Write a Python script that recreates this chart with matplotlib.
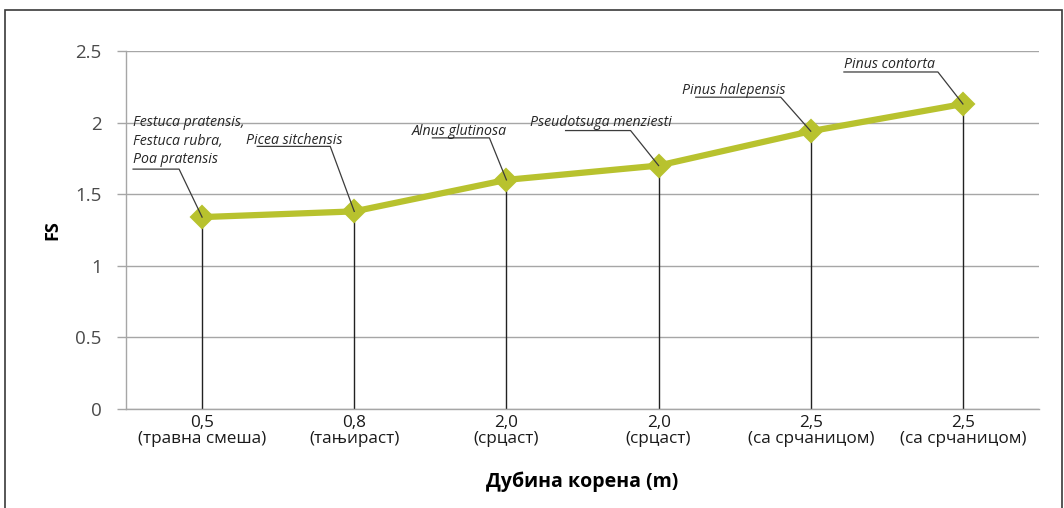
import matplotlib
matplotlib.use("Agg")
import matplotlib.pyplot as plt
from matplotlib.patches import Rectangle
from matplotlib.lines import Line2D

# ---- data ----
depths = ["0,5", "0,8", "2,0", "2,0", "2,5", "2,5"]
root_types = ["(травна смеша)", "(тањираст)", "(срцаст)", "(срцаст)",
              "(са срчаницом)", "(са срчаницом)"]
fs_values = [1.34, 1.38, 1.60, 1.70, 1.94, 2.13]
species = ["Festuca pratensis,\nFestuca rubra,\nPoa pratensis",
           "Picea sitchensis",
           "Alnus glutinosa",
           "Pseudotsuga menziesti",
           "Pinus halepensis",
           "Pinus contorta"]
y_ticks = [0, 0.5, 1, 1.5, 2, 2.5]
y_tick_labels = ["0", "0.5", "1", "1.5", "2", "2.5"]

# label placement (pixel offsets from the point, image y-down)
text_off = [(-69, -76), (-108, -71), (-95, -48), (-129, -43), (-129, -41), (-119, -39)]
uline = [(-69, -23, -48), (-97, -24, -65), (-74, -17, -42), (-93, -28, -35),
         (-115, -30, -34), (-119, -25, -32)]

W, H = 1064, 508
fig = plt.figure(figsize=(W / 100, H / 100), dpi=100)
fig.patch.set_facecolor("white")
FONT = "Open Sans"

# outer frame
fig.add_artist(Rectangle((5 / W, -0.01), (1062 - 5) / W, 1 - 10 / H + 0.01,
                         transform=fig.transFigure, fill=False,
                         edgecolor="#3a3a3a", linewidth=1.2))

ax = fig.add_axes([126 / W, 1 - 409 / H, (1039 - 126) / W, (409 - 51) / H])
n = len(fs_values)
x = list(range(n))
ax.set_xlim(-0.5, n - 0.5)
ax.set_ylim(0, 2.5)

for s in ["top", "right"]:
    ax.spines[s].set_visible(False)
ax.spines["left"].set_color("#a6a6a6")
ax.spines["bottom"].set_color("#a6a6a6")
ax.spines["left"].set_linewidth(1.0)
ax.spines["bottom"].set_linewidth(1.0)

ax.set_yticks(y_ticks)
ax.set_yticklabels(y_tick_labels, fontsize=13.5, color="#4a4a4a", fontname=FONT)
ax.tick_params(axis="y", length=6.5, width=1.0, color="#a6a6a6", pad=11)
ax.set_xticks(x)
ax.set_xticklabels([f"{d}\n{r}" for d, r in zip(depths, root_types)],
                   fontsize=12.3, color="#1a1a1a", fontname=FONT, linespacing=0.95)
ax.tick_params(axis="x", length=0, pad=4.5)
ax.yaxis.grid(True, color="#a6a6a6", linewidth=1.0)
ax.set_axisbelow(True)

# drop lines
ax.vlines(x, 0, fs_values, color="#222222", linewidth=1.0, zorder=2)
# series
ax.plot(x, fs_values, color="#b8c22e", linewidth=4.5, zorder=4,
        solid_capstyle="round")

ax.set_ylabel("FS", fontsize=13, fontweight="bold", fontname=FONT, labelpad=10)
ax.set_xlabel("Дубина корена (m)", fontsize=14, fontweight="bold",
              fontname=FONT, labelpad=18)

fig.canvas.draw()
to_disp = ax.transData
for i, v in enumerate(fs_values):
    px, py = to_disp.transform((i, v))
    tx, ty = text_off[i]
    fig.text((px + tx) / W, (py - ty) / H, species[i], ha="left", va="center",
             fontsize=10.2, style="italic", fontname=FONT, color="#262626",
             linespacing=1.35, zorder=5)
    x0, x1, uy = uline[i]
    xs = [(px + x0) / W, (px + x1) / W, px / W]
    ys = [(py - uy) / H, (py - uy) / H, py / H]
    fig.add_artist(Line2D(xs, ys, transform=fig.transFigure, color="#3c3c3c",
                          linewidth=0.9, zorder=3))
# markers over leader lines
ax.plot(x, fs_values, linestyle="none", marker="D", markersize=11.5,
        color="#b8c22e", markeredgewidth=1.5, markeredgecolor="#b8c22e",
        zorder=6, clip_on=False)

fig.savefig("out.png", dpi=100, facecolor="white")
